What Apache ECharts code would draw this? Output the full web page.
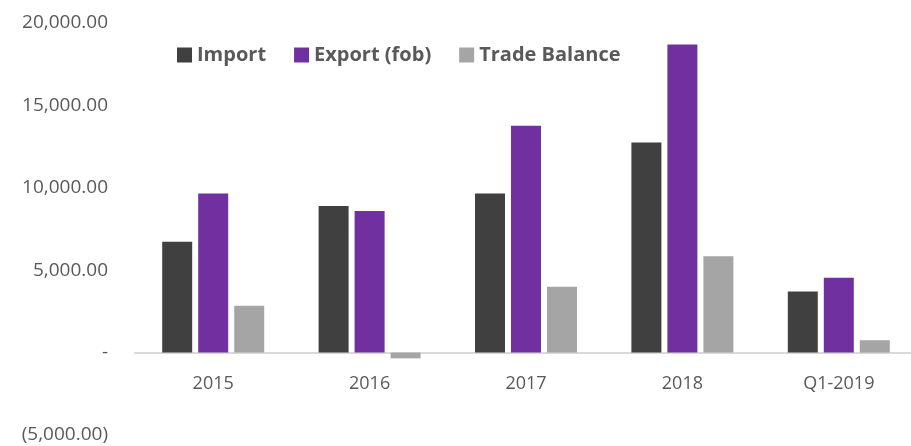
<!DOCTYPE html>
<html>
<head>
<meta charset="utf-8">
<script src="https://cdn.jsdelivr.net/npm/echarts@6/dist/echarts.min.js"></script>
<style>
  html, body { margin: 0; padding: 0; background: #fff; }
  #chart { width: 911px; height: 446px; }
</style>
</head>
<body>
<div id="chart"></div>
<script>
// categories and series values
const categories = ['2015', '2016', '2017', '2018', 'Q1-2019'];
const importVals = [6730, 8890, 9660, 12750, 3700];
const exportVals = [9660, 8590, 13760, 18690, 4545];
const balanceVals = [2850, -350, 4000, 5840, 750];

const labelColor = '#595959';
const fontFamily = '"Open Sans", Lato, sans-serif';

function fmt(v) {
  if (v === 0) return '-';
  const s = Math.abs(v).toLocaleString('en-US', { minimumFractionDigits: 2, maximumFractionDigits: 2 });
  return v < 0 ? '(' + s + ')' : s;
}

const myChart = echarts.init(document.getElementById('chart'));
myChart.setOption({
  animation: false,
  textStyle: { fontFamily: fontFamily },
  legend: {
    left: 172,
    top: 40,
    itemWidth: 15,
    itemHeight: 15,
    itemGap: 28,
    icon: 'rect',
    textStyle: { color: labelColor, fontSize: 20, fontWeight: 'bold', fontFamily: fontFamily },
    data: ['Import', 'Export (fob)', 'Trade Balance']
  },
  grid: {
    left: 135,
    top: 23,
    width: 782,
    height: 412,
    outerBoundsMode: 'none'
  },
  xAxis: {
    type: 'category',
    data: categories,
    position: 'bottom',
    // x axis line sits at the zero value
    offset: -82.4,
    axisTick: { show: false },
    axisLine: { onZero: false, lineStyle: { color: '#D9D9D9', width: 2 } },
    axisLabel: { show: true, interval: 0, color: labelColor, fontSize: 18, margin: 22 }
  },
  yAxis: {
    type: 'value',
    min: -5000,
    max: 20000,
    interval: 5000,
    splitLine: { show: false },
    axisLine: { show: false },
    axisTick: { show: false },
    axisLabel: { color: labelColor, fontSize: 19, margin: 27, formatter: fmt }
  },
  series: [
    {
      name: 'Import',
      type: 'bar',
      barWidth: 30,
      barGap: '20%',
      itemStyle: { color: '#404040' },
      data: importVals
    },
    {
      name: 'Export (fob)',
      type: 'bar',
      barWidth: 30,
      barGap: '20%',
      itemStyle: { color: '#7030A0' },
      data: exportVals
    },
    {
      name: 'Trade Balance',
      type: 'bar',
      barWidth: 30,
      barGap: '20%',
      itemStyle: { color: '#A5A5A5' },
      data: balanceVals
    }
  ]
});
</script>
</body>
</html>
